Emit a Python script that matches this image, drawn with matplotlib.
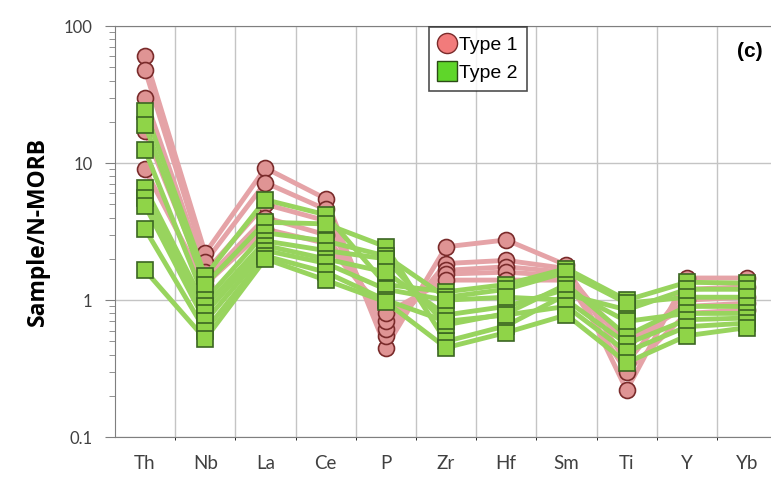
import matplotlib
matplotlib.use("Agg")
import matplotlib.pyplot as plt
from matplotlib.lines import Line2D
from matplotlib.ticker import LogLocator, NullFormatter, FixedLocator
import numpy as np

elements = ["Th", "Nb", "La", "Ce", "P", "Zr", "Hf", "Sm", "Ti", "Y", "Yb"]

# Type 1 samples (pink circles)
type1_a = [60, 2.2, 9.2, 5.5, 0.45, 2.45, 2.75, 1.8, 0.22, 1.45, 1.45]
type1_b = [48, 1.9, 7.2, 4.6, 0.55, 1.85, 1.95, 1.7, 0.35, 1.2, 1.25]
type1_c = [30, 1.6, 5.0, 3.8, 0.62, 1.65, 1.75, 1.6, 0.45, 1.0, 1.05]
type1_d = [17, 1.4, 4.0, 3.0, 0.70, 1.55, 1.6, 1.5, 0.50, 0.9, 0.95]
type1_e = [9, 1.3, 3.3, 2.6, 0.80, 1.4, 1.4, 1.4, 0.30, 0.8, 0.85]

# Type 2 samples (green squares)
type2_a = [24, 1.5, 5.4, 4.2, 1.3, 1.15, 1.3, 1.7, 1.0, 1.35, 1.33]
type2_b = [19, 1.3, 3.7, 3.6, 2.45, 0.50, 0.65, 1.1, 0.85, 1.2, 1.2]
type2_c = [12.4, 1.0, 3.1, 2.7, 2.1, 1.05, 1.2, 1.6, 0.95, 1.05, 1.05]
type2_d = [6.6, 0.9, 2.7, 2.3, 2.0, 0.66, 0.8, 1.3, 0.55, 0.9, 0.9]
type2_e = [5.6, 0.8, 2.5, 2.0, 1.6, 0.78, 0.9, 1.2, 0.70, 0.8, 0.8]
type2_f = [4.9, 0.7, 2.3, 1.86, 1.2, 1.0, 1.05, 1.0, 0.48, 0.72, 0.74]
type2_g = [3.3, 0.6, 2.1, 1.6, 1.0, 0.70, 0.78, 0.9, 0.42, 0.64, 0.68]
type2_h = [1.65, 0.52, 2.0, 1.4, 0.97, 0.45, 0.58, 0.78, 0.35, 0.55, 0.63]

type1 = [type1_a, type1_b, type1_c, type1_d, type1_e]
type2 = [type2_a, type2_b, type2_c, type2_d, type2_e, type2_f, type2_g, type2_h]

fig = plt.figure(figsize=(7.71, 4.82), dpi=100)
ax = fig.add_axes([0.149, 0.093, 0.859, 0.853])

x = np.arange(len(elements))
for s in type1:
    ax.plot(x, s, color="#e5a3a7", lw=3.5, zorder=2)
for s in type1:
    ax.plot(x, s, ls="none", marker="o", ms=11.5, mfc="#df9494",
            mec="#7a2b2b", mew=1.2, zorder=3)
for s in type2:
    ax.plot(x, s, color="#98d45e", lw=3.5, zorder=4)
for s in type2:
    ax.plot(x, s, ls="none", marker="s", ms=11.5, mfc="#8fd448",
            mec="#3b6622", mew=1.2, zorder=5)

ax.set_yscale("log")
ax.set_ylim(0.1, 100)
ax.set_xlim(-0.5, len(elements) - 0.5)
ax.yaxis.set_major_locator(FixedLocator([0.1, 1, 10, 100]))
ax.set_yticklabels(["0.1", "1", "10", "100"])
ax.yaxis.set_minor_locator(LogLocator(base=10, subs=np.arange(2, 10)))
ax.yaxis.set_minor_formatter(NullFormatter())
ax.tick_params(axis="y", which="major", length=7, color="#808080",
               labelsize=12, labelcolor="#404040", pad=9)
ax.tick_params(axis="y", which="minor", length=4, color="#808080")
ax.set_xticks(x)
ax.set_xticklabels(elements, fontsize=13.5, color="#404040", family="Lato")
ax.tick_params(axis="x", length=0, pad=13)
for lbl in ax.get_yticklabels():
    lbl.set_family("Lato")

ax.set_xticks(x[:-1] + 0.5, minor=True)
ax.grid(True, which="minor", axis="x", color="#c4c4c4", lw=1)
ax.grid(True, which="major", axis="y", color="#c4c4c4", lw=1)
ax.set_axisbelow(True)
for side in ["left", "bottom", "top"]:
    ax.spines[side].set_color("#7f7f7f")
ax.spines["right"].set_visible(False)

ax.set_ylabel("Sample/N-MORB", fontsize=16.5, fontweight="bold",
              family="Open Sans", labelpad=10)

handles = [
    Line2D([], [], ls="none", marker="o", ms=14.5, mfc="#f27b7b",
           mec="#7a2b2b", mew=1.0, label="Type 1"),
    Line2D([], [], ls="none", marker="s", ms=14.5, mfc="#5fd62a",
           mec="#2b4b16", mew=1.0, label="Type 2"),
]
leg = ax.legend(handles=handles, loc="upper left", bbox_to_anchor=(0.474, 0.998),
                frameon=True, fancybox=False, edgecolor="#222222",
                prop={"family": "Liberation Sans", "size": 14},
                handletextpad=0.15, borderpad=0.5, labelspacing=0.5,
                handlelength=0.9, borderaxespad=0)
leg.get_frame().set_linewidth(1.2)
leg.set_zorder(10)

ax.text(0.958, 0.937, "(c)", transform=ax.transAxes, fontsize=15,
        fontweight="bold", family="Liberation Sans", ha="center", va="center")

fig.savefig("out.png", dpi=100)
